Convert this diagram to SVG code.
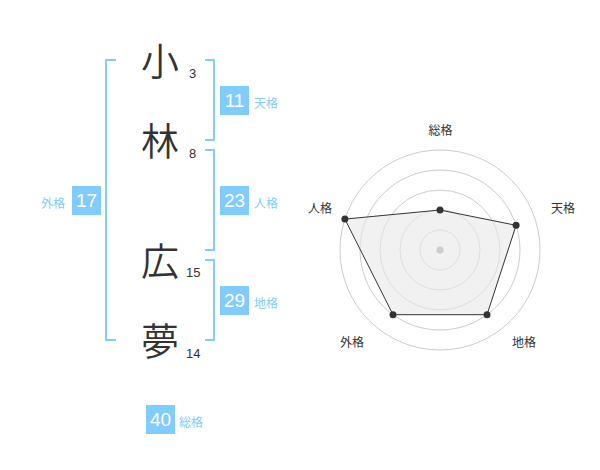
<svg xmlns="http://www.w3.org/2000/svg" width="600" height="470" viewBox="0 0 600 470">
<style>
.br{fill:none;stroke:#80ccff;stroke-width:2}
.kanji{font-family:"Noto Sans CJK JP","Noto Sans CJK SC",sans-serif;font-size:38px;font-weight:350;fill:#333;text-anchor:middle}
.stroke{font-family:"Liberation Sans",Arial,sans-serif;font-size:13px;fill:#333}
.box{fill:#80ccff}
.num{font-family:"Liberation Sans",Arial,sans-serif;font-size:19px;fill:#fff;text-anchor:middle}
.lbl{font-family:"Noto Sans CJK JP",sans-serif;font-size:12px;fill:#80ccff}
.ring{fill:none;stroke:#cccccc;stroke-width:1}
.axis{font-family:"Noto Sans CJK JP",sans-serif;font-size:12px;fill:#333;text-anchor:middle}
.pt{fill:#333}
</style>
<rect width="600" height="470" fill="#fff"/>
<g id="connectors">
<path class="br" d="M116,60 H106 V340 H116"/>
<path class="br" d="M205,60 H214 V140 H205"/>
<path class="br" d="M205,150 H214 V250 H205"/>
<path class="br" d="M205,260 H214 V340 H205"/>
</g>
<g id="char-ko"><text class="kanji" x="160" y="75">小</text><text class="stroke" x="189" y="78">3</text></g>
<g id="char-bayashi"><text class="kanji" x="160" y="155">林</text><text class="stroke" x="189" y="158">8</text></g>
<g id="char-hiro"><text class="kanji" x="160" y="275">広</text><text class="stroke" x="186" y="277">15</text></g>
<g id="char-yume"><text class="kanji" x="160" y="355">夢</text><text class="stroke" x="186" y="358">14</text></g>
<g id="tenkaku"><rect class="box" x="220" y="86" width="29" height="29"/><text class="num" x="234.5" y="107">11</text><text class="lbl" x="254" y="108">天格</text></g>
<g id="jinkaku"><rect class="box" x="220" y="186" width="29" height="29"/><text class="num" x="234.5" y="207">23</text><text class="lbl" x="254" y="208">人格</text></g>
<g id="chikaku"><rect class="box" x="220" y="286" width="29" height="29"/><text class="num" x="234.5" y="307">29</text><text class="lbl" x="254" y="308">地格</text></g>
<g id="gaikaku"><rect class="box" x="72" y="186" width="29" height="29"/><text class="num" x="86.5" y="207">17</text><text class="lbl" x="41" y="208">外格</text></g>
<g id="soukaku"><rect class="box" x="146" y="405" width="29" height="29"/><text class="num" x="160.5" y="426">40</text><text class="lbl" x="179" y="427">総格</text></g>
<g id="radar">
<circle class="ring" cx="440" cy="250" r="20"/>
<circle class="ring" cx="440" cy="250" r="40"/>
<circle class="ring" cx="440" cy="250" r="60"/>
<circle class="ring" cx="440" cy="250" r="80"/>
<circle class="ring" cx="440" cy="250" r="100"/>
<polygon points="440,210 516.1,225.3 487,314.7 393,314.7 344.9,219.1" fill="#e8e8e8" fill-opacity="0.6" stroke="#333" stroke-width="1"/>
<circle cx="440" cy="250" r="3.5" fill="#cccccc"/>
<circle class="pt" cx="440" cy="210" r="3.5"/>
<circle class="pt" cx="516.1" cy="225.3" r="3.5"/>
<circle class="pt" cx="487" cy="314.7" r="3.5"/>
<circle class="pt" cx="393" cy="314.7" r="3.5"/>
<circle class="pt" cx="344.9" cy="219.1" r="3.5"/>
<text class="axis" x="440.5" y="135">総格</text>
<text class="axis" x="563" y="213">天格</text>
<text class="axis" x="524" y="347">地格</text>
<text class="axis" x="352" y="347">外格</text>
<text class="axis" x="320" y="213">人格</text>
</g>
</svg>
